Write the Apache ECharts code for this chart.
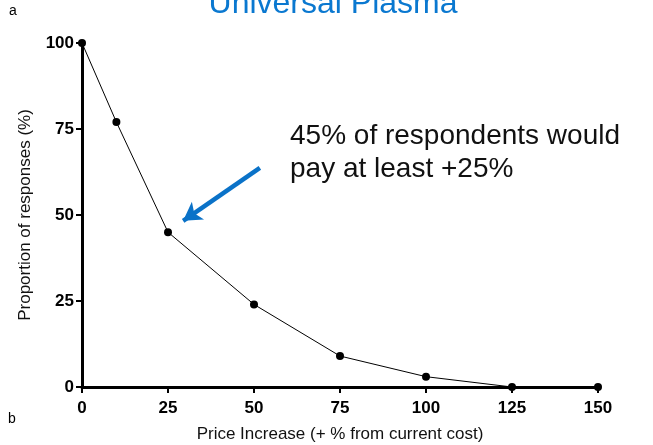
<!DOCTYPE html>
<html>
<head>
<meta charset="utf-8">
<script src="https://cdn.jsdelivr.net/npm/echarts@6/dist/echarts.min.js"></script>
<style>
  html, body { margin: 0; padding: 0; background: #fff; }
  #chart { width: 653px; height: 445px; }
</style>
</head>
<body>
<div id="chart"></div>
<script>
// price increase (+% from current cost) vs proportion willing to pay
const priceIncrease = [0, 10, 25, 50, 75, 100, 125, 150]
const proportion = [100, 77, 45, 24, 9, 3, 0, 0]
const xTicks = [0, 25, 50, 75, 100, 125, 150]
const yTicks = [0, 25, 50, 75, 100]
// annotation arrow, in data units (start -> head)
const arrowFrom = [51.7, 63.7]
const arrowTo = [29.4, 48.3]

const font = 'Liberation Sans, Arial, sans-serif'
const myChart = echarts.init(document.getElementById('chart'))

const option = {
  animation: false,
  textStyle: { fontFamily: font },
  grid: { left: 82, right: 55, top: 43, bottom: 58, outerBoundsMode: 'none', containLabel: false },
  title: {
    text: 'Universal Plasma',
    left: 328,
    textAlign: 'center',
    top: -17,
    textStyle: { color: '#0a78d0', fontSize: 32, fontWeight: 'normal', fontFamily: font }
  },
  graphic: [
    { type: 'text', left: 9, top: 4, style: { text: 'a', fontSize: 14, fill: '#000', fontFamily: font } },
    { type: 'text', left: 8, top: 412, style: { text: 'b', fontSize: 14, fill: '#000', fontFamily: font } },
    {
      type: 'text', left: 290, top: 120,
      style: {
        text: '45% of respondents would\npay at least +25%',
        fontSize: 28, lineHeight: 33, fill: '#111', fontFamily: font
      }
    }
  ],
  xAxis: {
    type: 'value',
    min: 0, max: 150, interval: 25,
    name: 'Price Increase (+ % from current cost)',
    nameLocation: 'middle',
    nameGap: 39,
    nameTextStyle: { fontSize: 17, color: '#111' },
    axisLine: { show: true, lineStyle: { color: '#000', width: 3 } },
    axisTick: { show: true, length: 6, lineStyle: { color: '#000', width: 2 } },
    axisLabel: {
      fontSize: 17, fontWeight: 'bold', color: '#000', margin: 13,
      formatter: v => xTicks.includes(v) ? String(v) : ''
    },
    splitLine: { show: false }
  },
  yAxis: {
    type: 'value',
    min: 0, max: 100, interval: 25,
    name: 'Proportion of responses (%)',
    nameLocation: 'middle',
    nameGap: 48,
    nameTextStyle: { fontSize: 17, color: '#111' },
    axisLine: { show: true, lineStyle: { color: '#000', width: 3 } },
    axisTick: { show: true, length: 6, lineStyle: { color: '#000', width: 2 } },
    axisLabel: {
      fontSize: 17, fontWeight: 'bold', color: '#000', margin: 8,
      formatter: v => yTicks.includes(v) ? String(v) : ''
    },
    splitLine: { show: false }
  },
  series: [
    {
      type: 'line',
      data: priceIncrease.map((x, i) => [x, proportion[i]]),
      symbol: 'circle',
      symbolSize: 8,
      clip: false,
      lineStyle: { color: '#000', width: 1 },
      itemStyle: { color: '#000' },
      z: 3,
      markLine: {
        silent: true,
        symbol: ['none', 'arrow'],
        symbolSize: [16, 18],
        label: { show: false },
        lineStyle: { color: '#0a72c8', width: 4.5, type: 'solid' },
        data: [[{ coord: arrowFrom }, { coord: arrowTo }]]
      }
    }
  ]
}

myChart.setOption(option)
</script>
</body>
</html>
